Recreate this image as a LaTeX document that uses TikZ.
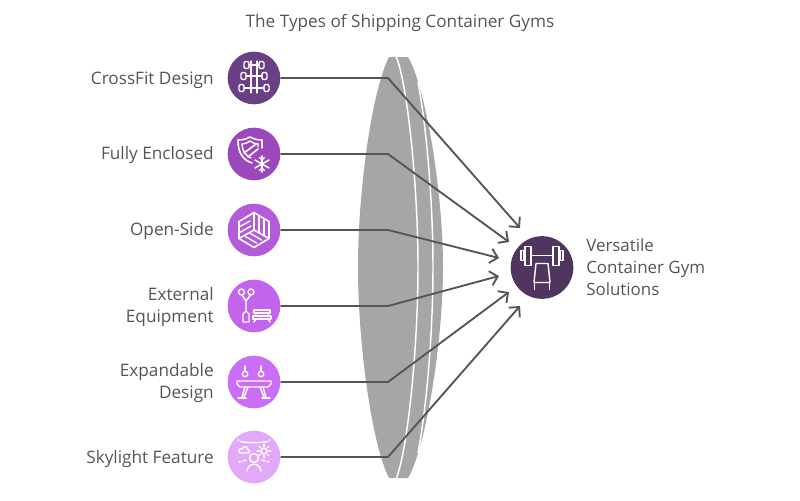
\documentclass[tikz,border=0pt]{standalone}
\usepackage{fontspec}
\setmainfont{Open Sans}
\usetikzlibrary{arrows.meta}
\definecolor{txt}{HTML}{555555}
\definecolor{lensc}{HTML}{A6A6A6}
\definecolor{linec}{HTML}{555555}
\definecolor{ca}{HTML}{6A3F85}
\definecolor{cb}{HTML}{9A48BC}
\definecolor{cc}{HTML}{B45BDA}
\definecolor{cd}{HTML}{C264EC}
\definecolor{ce}{HTML}{CB6EF6}
\definecolor{cf}{HTML}{E2A9FA}
\definecolor{ch}{HTML}{50365F}
\tikzset{
  x=0.75pt,y=-0.75pt,
  disc/.style={circle,inner sep=0pt,minimum size=39.5pt,draw=none},
  hubdisc/.style={circle,inner sep=0pt,minimum size=47pt,draw=none,fill=ch},
  lab/.style={text=txt,font=\fontsize{12.9pt}{16.5pt}\selectfont,align=right,anchor=east,inner sep=0pt},
  hublab/.style={text=txt,font=\fontsize{12.7pt}{16.5pt}\selectfont,align=left,anchor=west,inner sep=0pt},
  conn/.style={draw=linec,line width=1.4pt,-{Straight Barb[length=5.5pt,width=11pt,line width=1.4pt]}},
  ico/.style={draw=white,line width=1.05pt,fill=none,line cap=round,line join=round},
  icob/.style={draw=white,line width=1.2pt,fill=none,line cap=round,line join=round},
  sep/.style={draw=white,line width=1.1pt}
}
\begin{document}
\begin{tikzpicture}
\useasboundingbox (0,0) rectangle (800,500);
% lens
\fill[lensc] (389,57) -- (408,57) .. controls (425,85) and (443,190) .. (443,267) .. controls (443,345) and (425,450) .. (408,478) -- (389,478) .. controls (372,445) and (358,345) .. (358,267) .. controls (358,190) and (372,90) .. (389,57) -- cycle;
\draw[sep] (396,56) .. controls (408,85) and (418,190) .. (418,267) .. controls (418,345) and (408,450) .. (396,479);
\draw[sep] (418,82) .. controls (427,130) and (433,205) .. (433,267) .. controls (433,330) and (427,405) .. (418,453);
\node[anchor=center,text=txt,font=\fontsize{12.9pt}{14pt}\selectfont] (title) at (400,22.5) {The Types of Shipping Container Gyms};
% discs
\node[disc,fill=ca] (c1) at (254,78) {};
\node[disc,fill=cb] (c2) at (254,154) {};
\node[disc,fill=cc] (c3) at (254,230) {};
\node[disc,fill=cd] (c4) at (254,306) {};
\node[disc,fill=ce] (c5) at (254,382) {};
\node[disc,fill=cf] (c6) at (254,457) {};
\node[hubdisc] (hub) at (542,267.5) {};
% labels
\node[lab] (l1) at (214,80) {CrossFit Design};
\node[lab] (l2) at (214,155.5) {Fully Enclosed};
\node[lab] (l3) at (214,231.5) {Open-Side};
\node[lab] (l4) at (214,307) {External\\Equipment};
\node[lab] (l5) at (214,383) {Expandable\\Design};
\node[lab] (l6) at (214,459) {Skylight Feature};
\node[hublab] (hl) at (586,267) {Versatile\\Container Gym\\Solutions};
% connectors
\coordinate (b1) at (388,78); \coordinate (e1) at (520,228);
\coordinate (b2) at (388,154); \coordinate (e2) at (509,242);
\coordinate (b3) at (388,230); \coordinate (e3) at (499,258);
\coordinate (b4) at (388,306); \coordinate (e4) at (499,276);
\coordinate (b5) at (388,382); \coordinate (e5) at (509,292);
\coordinate (b6) at (388,457); \coordinate (e6) at (520,306);
\draw[conn] (c1.east) -- (b1) -- (e1);
\draw[conn] (c2.east) -- (b2) -- (e2);
\draw[conn] (c3.east) -- (b3) -- (e3);
\draw[conn] (c4.east) -- (b4) -- (e4);
\draw[conn] (c5.east) -- (b5) -- (e5);
\draw[conn] (c6.east) -- (b6) -- (e6);
% icon 1: dumbbells
\begin{scope}[shift={(254,78)}]
 \foreach \y/\w in {-13/10,-2/13,10/15}{
  \draw[ico,rounded corners=1pt] (-\w,\y-3.5) rectangle (-\w+5,\y+3.5);
  \draw[ico,rounded corners=1pt] (\w-5,\y-3.5) rectangle (\w,\y+3.5);
  \draw[ico] (-\w+5,\y) -- (\w-5,\y);
 }
 \draw[ico] (-3,-17) -- (-3,15) (3,-17) -- (3,15);
\end{scope}
% icon 2: shield + snowflake
\begin{scope}[shift={(254,154)}]
 \draw[icob] (-2,9) .. controls (-11,6) and (-16,-1) .. (-16,-14) .. controls (-11,-14) and (-8,-15) .. (-4,-17) .. controls (0,-15) and (3,-14) .. (8,-14) -- (8,-6);
 \draw[ico] (-3,4) .. controls (-8,2) and (-12,-3) .. (-12,-10) .. controls (-9,-10) and (-7,-11) .. (-4,-13) .. controls (-1,-11) and (1,-10) .. (4,-10) -- (4,-7);
 \draw[icob] (-10,-1) -- (2,-10) (-6,3) -- (4,-5);
 \draw[icob] (8,2)--(8,18) (1,6)--(15,14) (1,14)--(15,6);
 \draw[ico] (5.5,3.5)--(8,6)--(10.5,3.5) (5.5,16.5)--(8,14)--(10.5,16.5);
\end{scope}
% icon 3: isometric cube
\begin{scope}[shift={(254,230)}]
 \draw[icob] (0,-17.5) -- (15,-8.5) -- (15,8.5) -- (0,17.5) -- (-15,8.5) -- (-15,-8.5) -- cycle;
 \draw[icob] (0,-17.5) -- (0,0) -- (-15,8.5) (0,0) -- (15,8.5);
 \draw[ico] (-15,-3)--(-4,-9) (-15,3)--(-3,-4) (-10,-11.5)--(-4,-15);
 \draw[ico] (5,-14.5)--(5,3) (10,-11.5)--(10,5.5);
 \draw[ico] (-8.5,6.5)--(2.5,13) (-3.5,3.5)--(7.5,10);
\end{scope}
% icon 4: rings, lamp and bench
\begin{scope}[shift={(254,306)}]
 \draw[ico] (-12.5,-14) circle (3) (-3,-14) circle (3);
 \draw[ico] (-12,-11) -- (-8,-5) -- (-3.5,-11) (-8,-5) -- (-8,5);
 \draw[ico] (-8,5)--(-11,8)--(-11,16)--(-5,16)--(-5,8)--cycle;
 \draw[ico] (0,4) rectangle (16,7);
 \draw[ico] (-1,10) rectangle (17,13);
 \draw[ico] (2,7)--(2,10) (14,7)--(14,10) (2,13)--(0,16) (14,13)--(16,16);
\end{scope}
% icon 5: rings and beam
\begin{scope}[shift={(254,382)}]
 \draw[ico] (-9,-8) circle (2.7) (7,-8) circle (2.7);
 \draw[ico] (-9,-16) -- (-9,-10.7) (7,-16) -- (7,-10.7);
 \draw[ico] (-17,-1) -- (17,-1) -- (17,2) -- (14,5) -- (-14,5) -- (-17,2) -- cycle;
 \draw[ico] (-9,5) -- (-12,15) (-6,5) -- (-10,15) (6,5)--(10,15) (9,5)--(12,15);
 \draw[ico] (-16,16)--(-8,16) (8,16)--(16,16);
\end{scope}
% icon 6: sky, sun, cloud and person
\begin{scope}[shift={(254,457)}]
 \draw[ico] (-14,-15.5) .. controls (-5,-14) and (5,-14) .. (14,-15.5);
 \draw[ico] (-16,-17)--(-15.5,-17) (15.5,-17)--(16,-17);
 \draw[ico] (-14,-4) .. controls (-17,-6) and (-14,-9) .. (-12,-8) .. controls (-10,-12) and (-6,-10) .. (-7,-8) .. controls (-4,-8) and (-4,-4) .. (-6,-4) -- cycle;
 \draw[ico] (10,-6) circle (3);
 \foreach \a in {0,45,...,315} \draw[ico] ([shift={(\a:4.7)}]10,-6) -- ([shift={(\a:6.7)}]10,-6);
 \draw[ico] (0,1) circle (4.5);
 \draw[ico] (-7,14) .. controls (-6,5) and (6,5) .. (7,14);
 \draw[ico] (-15,5)--(-13,4.5) (-11,4)--(-8,3) (8,3)--(11,4) (13,4.5)--(15,5);
\end{scope}
% hub icon: bench press
\begin{scope}[shift={(542,267.5)}]
 \draw[ico] (-21,-17) rectangle (-18,-7);
 \draw[ico] (-17,-21) rectangle (-11,-2);
 \draw[ico] (21,-17) rectangle (18,-7);
 \draw[ico] (17,-21) rectangle (11,-2);
 \draw[ico] (-11,-12) -- (11,-12);
 \draw[ico] (-6,-4) -- (6,-4) -- (8,15) -- (-8,15) -- cycle;
 \draw[ico] (-7.5,15) -- (-7.5,22) (7.5,15)--(7.5,22);
\end{scope}
\end{tikzpicture}
\end{document}
